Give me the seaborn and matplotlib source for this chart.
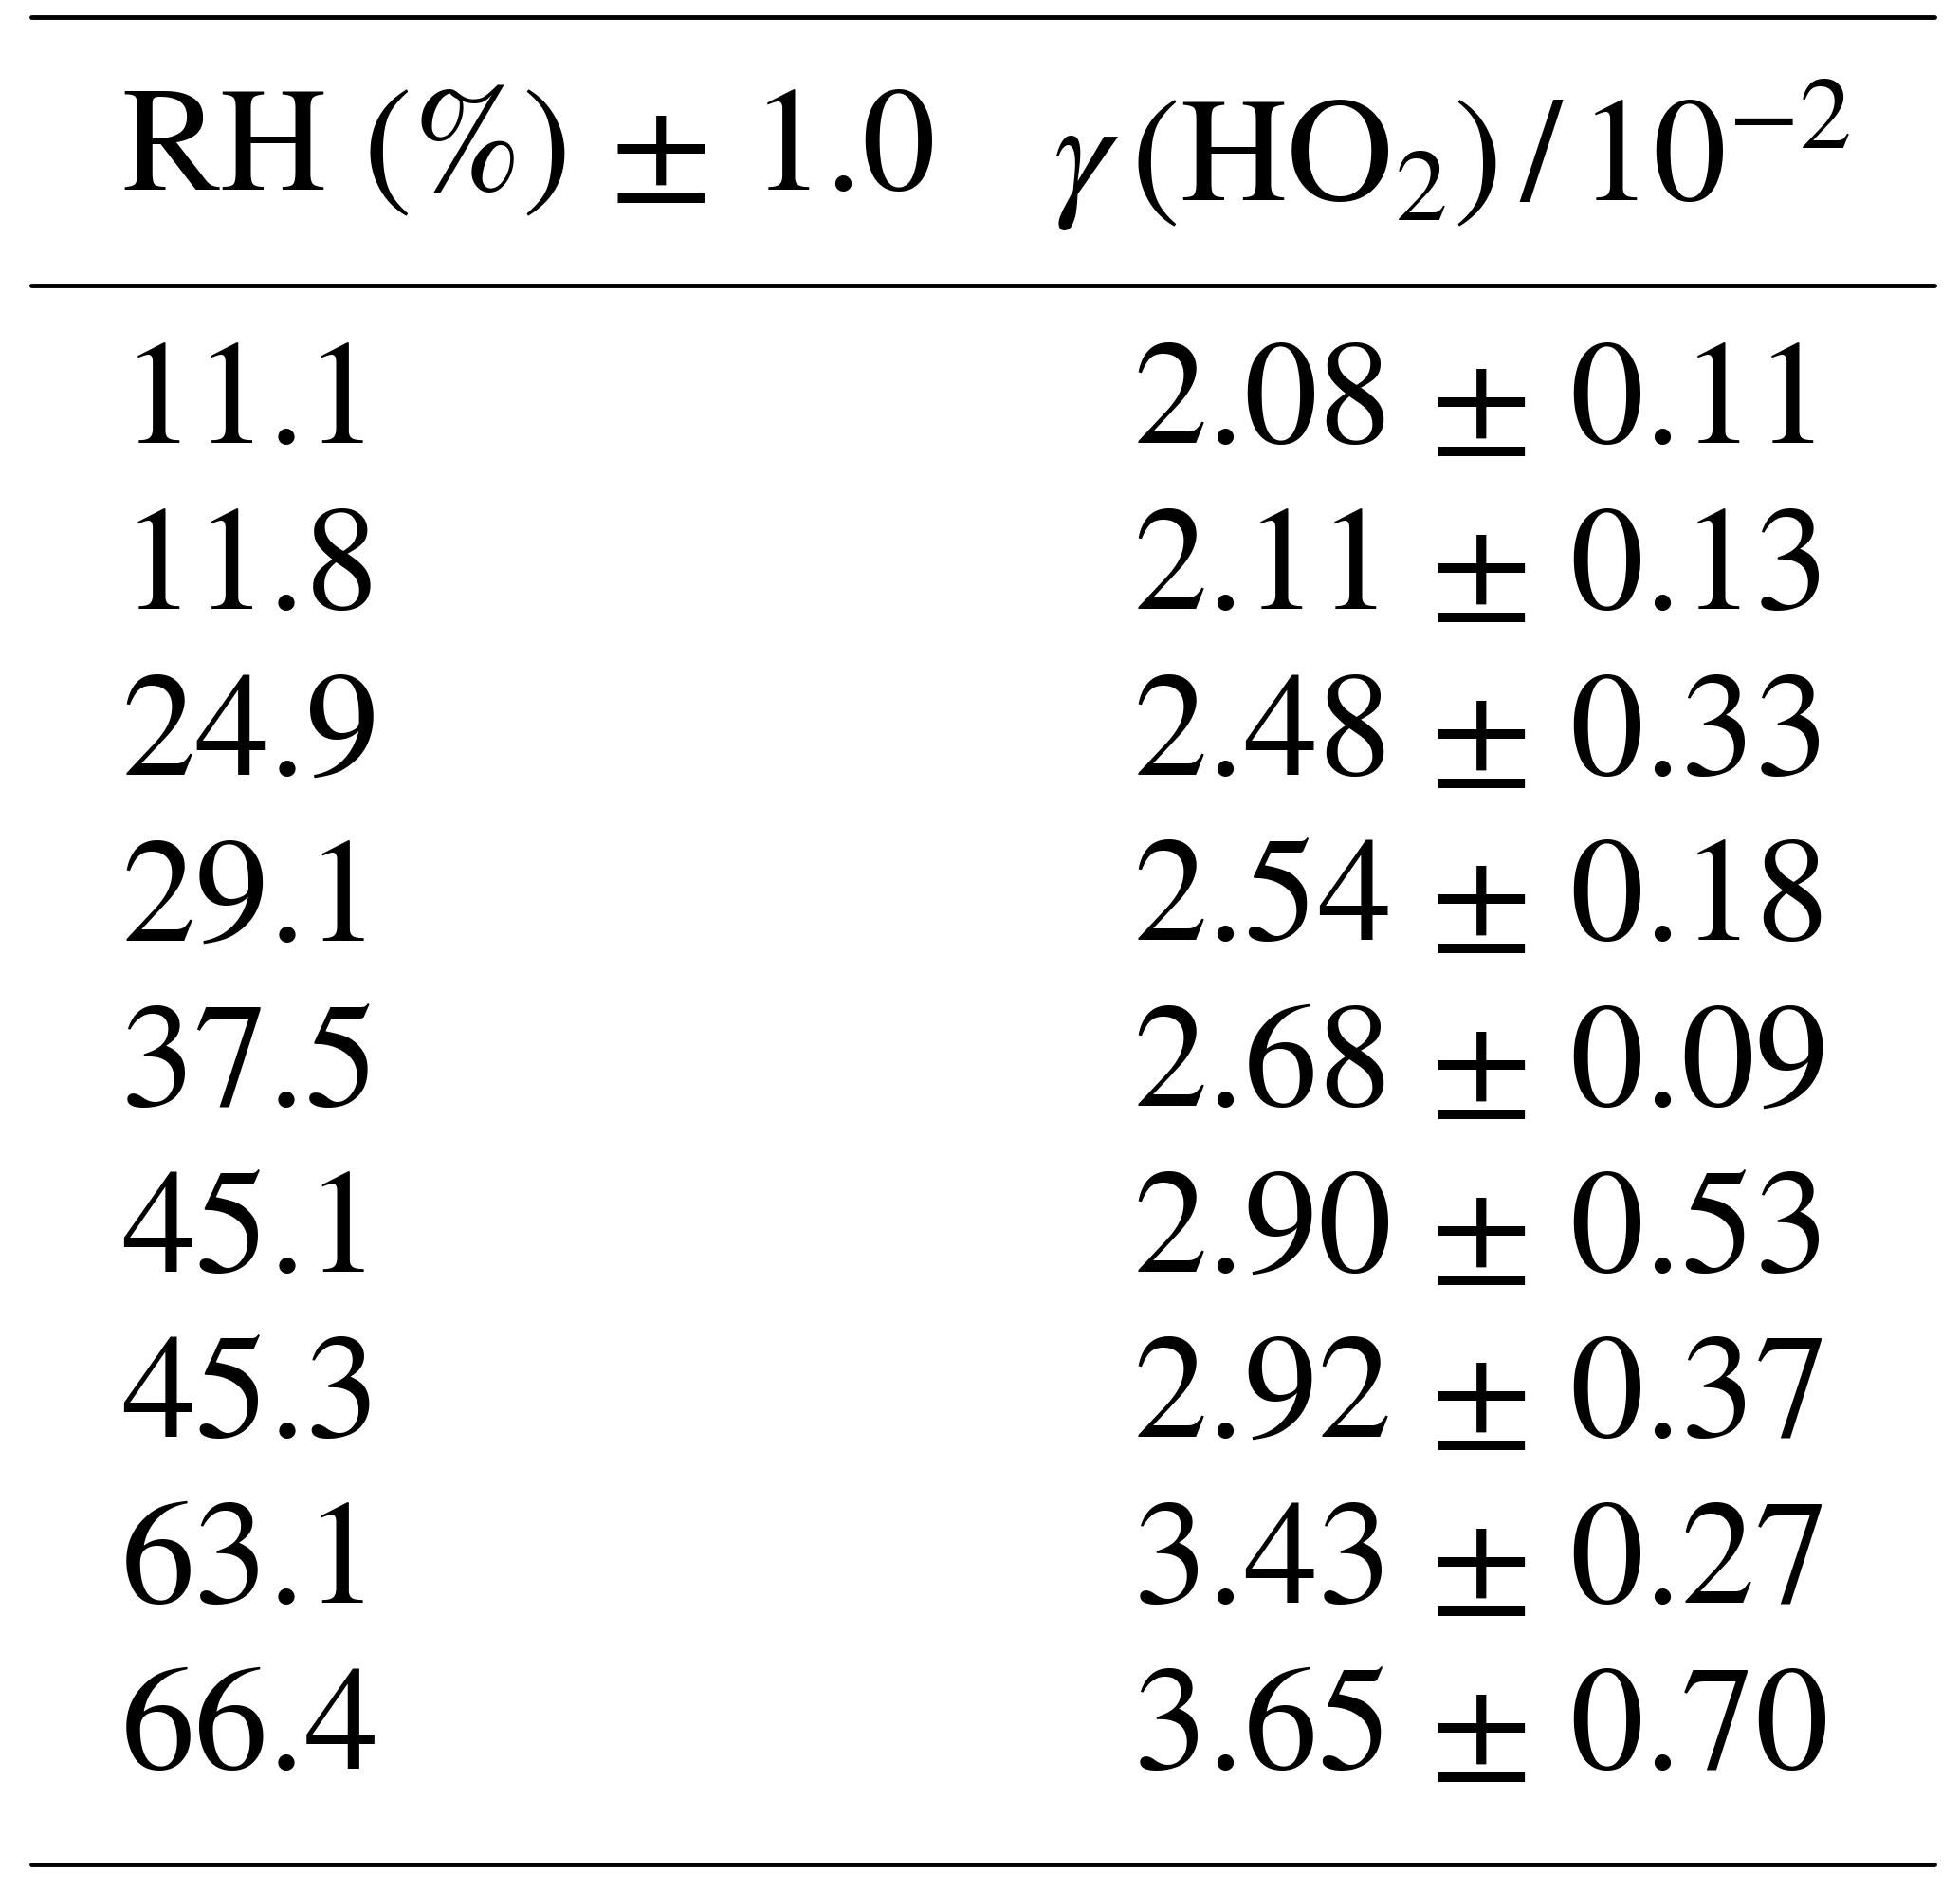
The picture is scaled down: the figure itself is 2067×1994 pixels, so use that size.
import seaborn as sns
import matplotlib.pyplot as plt

rh = ["11.1", "11.8", "24.9", "29.1", "37.5", "45.1", "45.3", "63.1", "66.4"]
gamma = ["2.08", "2.11", "2.48", "2.54", "2.68", "2.90", "2.92", "3.43", "3.65"]
gamma_err = ["0.11", "0.13", "0.33", "0.18", "0.09", "0.53", "0.37", "0.27", "0.70"]

sns.set_theme(style="white")
plt.rcParams['font.family'] = ['STIXGeneral', 'Liberation Serif', 'DejaVu Serif']
plt.rcParams['mathtext.fontset'] = 'stix'
plt.rcParams['text.color'] = 'black'

fig = plt.figure(figsize=(20.67, 19.94), dpi=100)
ax = fig.add_axes([0, 0, 1, 1])
ax.set_xlim(0, 1)
ax.set_ylim(1, 0)
ax.axis('off')

fs = 112
for y in [0.009, 0.151, 0.986]:
    ax.plot([0.016, 0.987], [y, y], color='black', lw=3.5)

ax.text(0.062, 0.082, r"RH (%)$\,\pm\,$1.0", fontsize=fs, va='center', ha='left', color='black')
ax.text(0.537, 0.082, r"$\gamma\,$(HO$_2$)$\,/\,$10$^{-2}$", fontsize=fs, va='center', ha='left', color='black')

y0, dy = 0.216, 0.0876
for i, (r, g, e) in enumerate(zip(rh, gamma, gamma_err)):
    y = y0 + i * dy
    ax.text(0.062, y, r, fontsize=fs, va='center', ha='left', color='black')
    ax.text(0.578, y, f"{g}$\\,\\pm\\,${e}", fontsize=fs, va='center', ha='left', color='black')

fig.savefig('out.png', dpi=100, facecolor='white')
